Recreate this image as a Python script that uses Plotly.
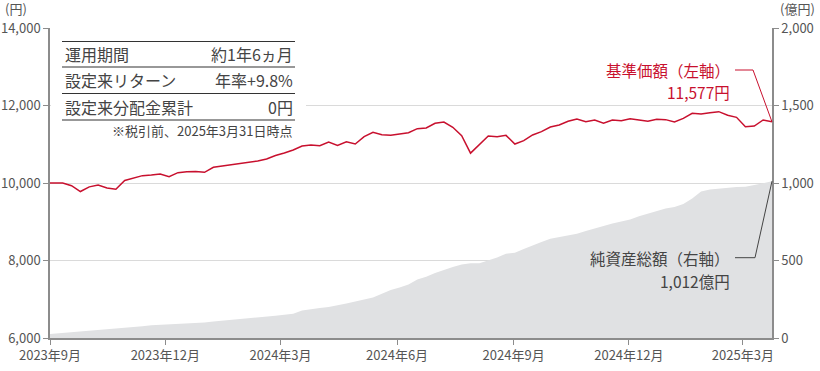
import pandas as pd
import plotly.graph_objects as go

# ---- data -------------------------------------------------------------
start_date = ["2023-09-08"]
weekly_dates = list(pd.date_range("2023-09-11", "2025-03-31", freq="W-MON").strftime("%Y-%m-%d"))
dates = start_date + weekly_dates

nav = [10000,
       10000, 10000, 9930, 9780, 9900, 9950, 9870, 9840, 10065, 10125,
       10190, 10207, 10232, 10163, 10266, 10292, 10300, 10275, 10405, 10439,
       10473, 10490, 10533, 10568, 10620, 10710, 10774, 10852, 10955, 10981,
       10963, 11058, 10972, 11066, 11006, 11195, 11308, 11247, 11230, 11256,
       11299, 11402, 11420, 11540, 11574, 11437, 11220, 10770, 10981, 11213,
       11195, 11230, 11006, 11092, 11239, 11325, 11445, 11497, 11592, 11652,
       11583, 11626, 11540, 11626, 11608, 11660, 11626, 11592, 11643, 11635,
       11574, 11669, 11798, 11780, 11815, 11841, 11747, 11695, 11450, 11471,
       11626, 11577]

net_assets = [26,
              28, 33, 37, 42, 46, 50, 54, 58, 62, 67,
              76, 82, 85, 88, 90, 92, 94, 100, 106, 111,
              115, 120, 126, 132, 138, 144, 150, 157, 178, 187,
              194, 200, 210, 222, 236, 248, 262, 285, 310, 326,
              345, 378, 395, 420, 440, 458, 474, 482, 482, 500,
              520, 544, 550, 575, 600, 620, 640, 650, 660, 672,
              690, 708, 722, 738, 752, 765, 785, 800, 820, 835,
              845, 865, 900, 945, 958, 965, 972, 975, 976, 985,
              998, 1012]

tick_dates = ["2023-09-08", "2023-12-08", "2024-03-08", "2024-06-08",
              "2024-09-08", "2024-12-08", "2025-03-08"]
tick_labels = ["2023年9月", "2023年12月", "2024年3月", "2024年6月",
               "2024年9月", "2024年12月", "2025年3月"]

left_ticks = [6000, 8000, 10000, 12000, 14000]
right_ticks = [0, 500, 1000, 1500, 2000]

table_labels = ["運用期間", "設定来リターン", "設定来分配金累計"]
table_values = ["約1年6ヵ月", "年率+9.8%", "0円"]
footnote = "※税引前、2025年3月31日時点"

nav_label = "基準価額（左軸）"
nav_value_label = "11,577円"
assets_label = "純資産総額（右軸）"
assets_value_label = "1,012億円"

# ---- styling ------------------------------------------------------------
FONT = "Noto Sans CJK JP"
RED = "#c8102e"
DARK = "#444444"
TICK = "#555555"
AXIS = "#8c8c8c"
GRID = "#dadada"
AREA = "#e0e1e3"

W, H = 820, 371
ML, MR, MT, MB = 50, 48, 28, 33
PW, PH = W - ML - MR, H - MT - MB


def px(x):
    return (x - ML) / PW


def py(y):
    return (H - MB - y) / PH


fig = go.Figure()

fig.add_trace(go.Scatter(
    x=dates, y=net_assets, yaxis="y", mode="lines",
    line=dict(width=0, color=AREA), fill="tozeroy", fillcolor=AREA,
    hoverinfo="skip", showlegend=False))

fig.add_trace(go.Scatter(
    x=dates, y=nav, yaxis="y2", mode="lines",
    line=dict(width=1.5, color=RED), showlegend=False))

fig.update_layout(
    width=W, height=H,
    margin=dict(l=ML, r=MR, t=MT, b=MB, autoexpand=False),
    paper_bgcolor="white", plot_bgcolor="white",
    font=dict(family=FONT, size=13, color=TICK),
    showlegend=False,
    xaxis=dict(
        type="date", range=[dates[0], dates[-1]], automargin=False,
        tickmode="array", tickvals=tick_dates, ticktext=tick_labels,
        ticks="outside", ticklen=5, tickcolor=AXIS,
        showline=True, linecolor=AXIS, linewidth=1.5,
        showgrid=False, zeroline=False,
        tickfont=dict(size=13, color=TICK, family=FONT),
    ),
    yaxis=dict(
        side="right", range=[0, 2000], automargin=False,
        tickmode="array", tickvals=right_ticks,
        ticktext=[f"{v:,}" for v in right_ticks],
        ticks="outside", ticklen=5, tickcolor=AXIS,
        showline=True, linecolor=AXIS, linewidth=1.5,
        showgrid=True, gridcolor=GRID, gridwidth=1, zeroline=False,
        tickfont=dict(size=13, color=TICK, family=FONT),
    ),
    yaxis2=dict(
        side="left", overlaying="y", range=[6000, 14000], automargin=False,
        tickmode="array", tickvals=left_ticks,
        ticktext=[f"{v:,}" for v in left_ticks],
        ticks="outside", ticklen=5, tickcolor=AXIS,
        showline=True, linecolor=AXIS, linewidth=1.5,
        showgrid=False, zeroline=False,
        tickfont=dict(size=13, color=TICK, family=FONT),
    ),
)

shapes = []
# white panel behind the table
shapes.append(dict(type="rect", xref="paper", yref="paper",
                   x0=px(51), x1=px(306), y0=py(138), y1=py(31),
                   fillcolor="white", line=dict(width=0), layer="above"))
# table rules
for yy in [41.5, 67, 93.5, 120]:
    shapes.append(dict(type="line", xref="paper", yref="paper",
                       x0=px(62), x1=px(295), y0=py(yy), y1=py(yy),
                       line=dict(color="#333333", width=1.2), layer="above"))

# leader lines
nav_end_y = (nav[-1] - left_ticks[0]) / (left_ticks[-1] - left_ticks[0])
assets_end_y = net_assets[-1] / right_ticks[-1]
shapes.append(dict(type="line", xref="paper", yref="paper",
                   x0=px(735), x1=px(753), y0=py(70), y1=py(70),
                   line=dict(color=RED, width=1), layer="above"))
shapes.append(dict(type="line", xref="paper", yref="paper",
                   x0=px(753), x1=1.0, y0=py(70), y1=nav_end_y,
                   line=dict(color=RED, width=1), layer="above"))
shapes.append(dict(type="line", xref="paper", yref="paper",
                   x0=px(735), x1=px(755), y0=py(257.7), y1=py(257.7),
                   line=dict(color=DARK, width=1), layer="above"))
shapes.append(dict(type="line", xref="paper", yref="paper",
                   x0=px(755), x1=1.0, y0=py(257.7), y1=assets_end_y,
                   line=dict(color=DARK, width=1), layer="above"))
fig.update_layout(shapes=shapes)

ann = []


def text(x, y, s, size, color, xanchor="left"):
    ann.append(dict(xref="paper", yref="paper", x=px(x), y=py(y), text=s,
                    showarrow=False, xanchor=xanchor, yanchor="middle",
                    font=dict(family=FONT, size=size, color=color)))


text(3, 8, "(円)", 13, TICK)
text(817, 8, "(億円)", 13, TICK, xanchor="right")

row_y = [54.5, 80.5, 107]
for lab, val, yy in zip(table_labels, table_values, row_y):
    text(63, yy, lab, 16, DARK)
    text(295, yy, val, 16, DARK, xanchor="right")
text(295, 130.5, footnote, 13, DARK, xanchor="right")

text(732, 70, nav_label, 15.5, RED, xanchor="right")
text(732, 91.5, nav_value_label, 15.5, RED, xanchor="right")
text(732, 257.5, assets_label, 15.5, DARK, xanchor="right")
text(732, 280.5, assets_value_label, 15.5, DARK, xanchor="right")

fig.update_layout(annotations=ann)

fig.write_html(
    "out.html",
    config={"displayModeBar": False},
    post_script="document.body.style.margin='0';document.body.style.overflow='hidden';",
)
